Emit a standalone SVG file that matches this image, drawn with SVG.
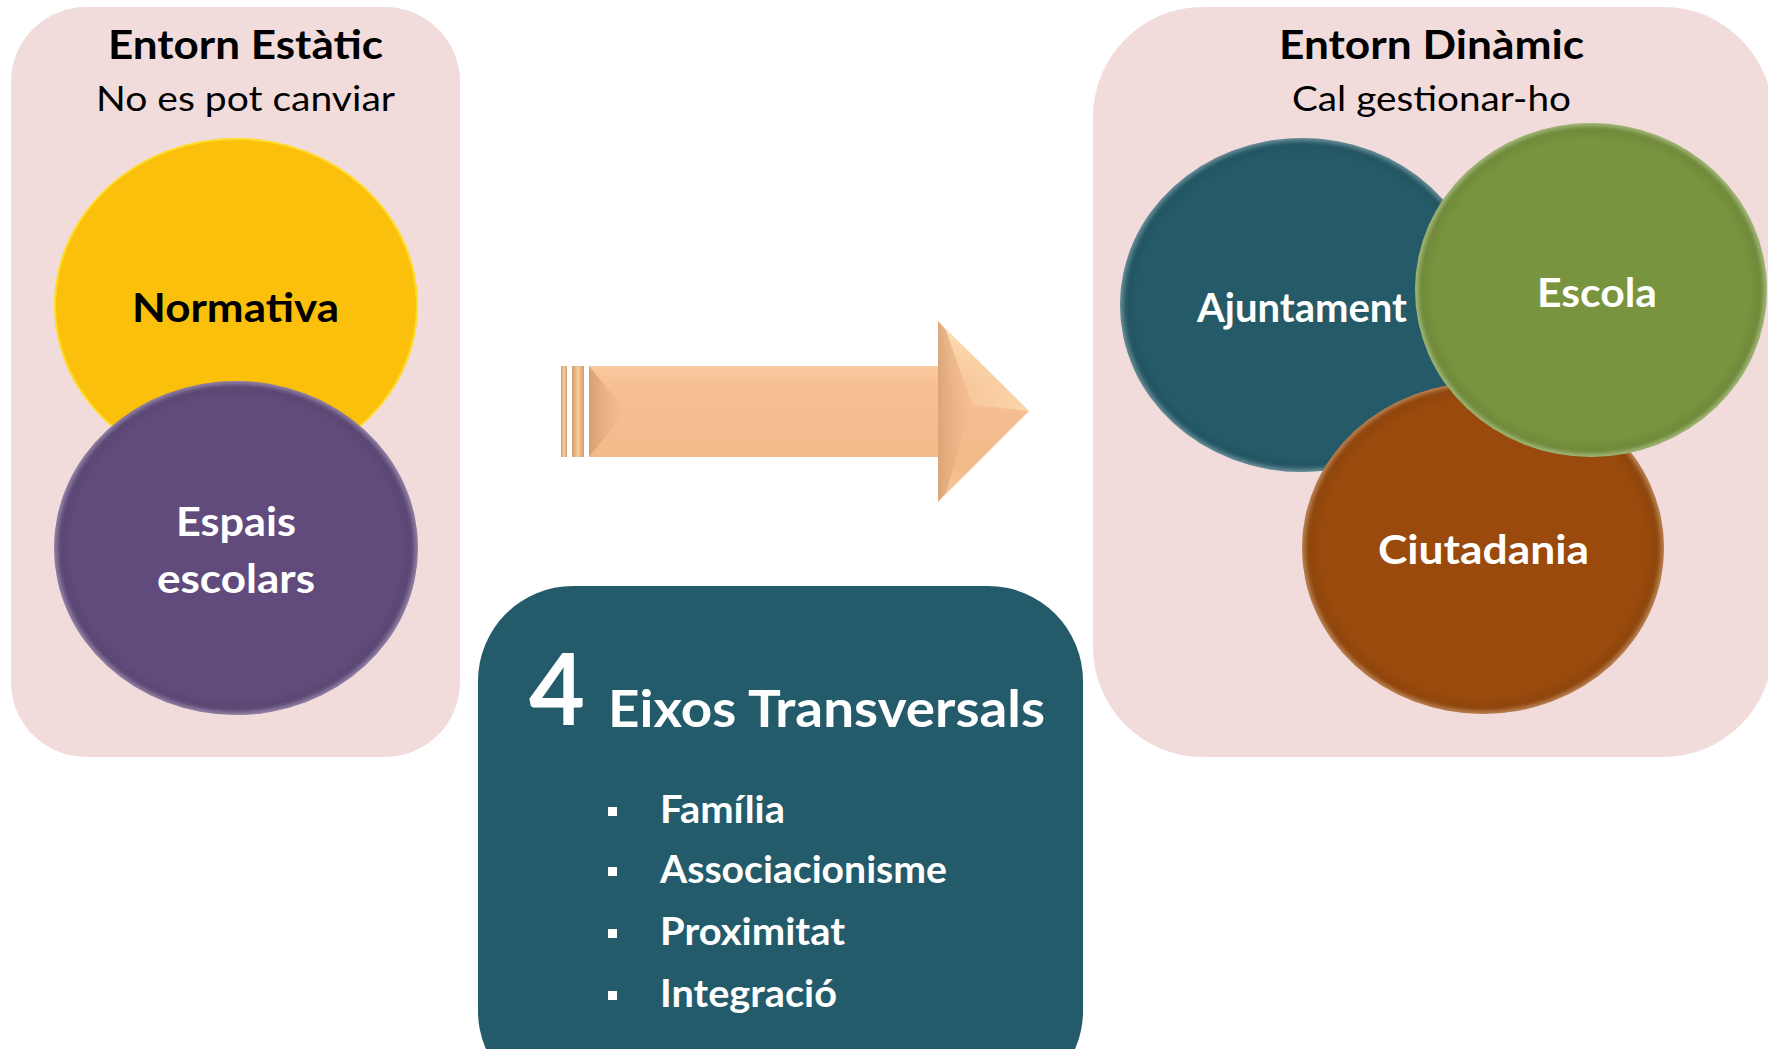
<svg xmlns="http://www.w3.org/2000/svg" width="1768" height="1049" viewBox="0 0 1768 1049">
<style>
.panel{fill:#F2DCDB}
.hd{font-family:Lato,"Open Sans",sans-serif;font-weight:700;font-size:40px;fill:#000}
.sub{font-family:Lato,"Open Sans",sans-serif;font-weight:400;font-size:35px;fill:#000}
.lbl{font-family:Lato,"Open Sans",sans-serif;font-weight:700;font-size:41px;fill:#fff}
.big{font-family:Lato,"Open Sans",sans-serif;font-weight:700;fill:#fff}
.item{font-family:Lato,"Open Sans",sans-serif;font-weight:700;font-size:38px;fill:#fff}
.rim{fill:url(#rim)}
</style>
<defs>
<radialGradient id="rim" cx="0.5" cy="0.5" r="0.5">
<stop offset="0" stop-color="#fff" stop-opacity="0"/>
<stop offset="0.9" stop-color="#000" stop-opacity="0"/>
<stop offset="0.955" stop-color="#000" stop-opacity="0.06"/>
<stop offset="0.985" stop-color="#fff" stop-opacity="0.18"/>
<stop offset="1" stop-color="#fff" stop-opacity="0.3"/>
</radialGradient>
<linearGradient id="arrowBody" x1="0" y1="0" x2="0" y2="1">
<stop offset="0" stop-color="#FEF0CC"/>
<stop offset="0.12" stop-color="#FBD7AA"/>
<stop offset="0.35" stop-color="#F6C094"/>
<stop offset="0.8" stop-color="#F3BA8A"/>
<stop offset="0.95" stop-color="#F6C798"/>
<stop offset="1" stop-color="#FDE6BE"/>
</linearGradient>
<linearGradient id="stripe" x1="0" y1="0" x2="1" y2="0">
<stop offset="0" stop-color="#D39B6C"/>
<stop offset="0.5" stop-color="#F8CC9E"/>
<stop offset="1" stop-color="#D39B6C"/>
</linearGradient>
<linearGradient id="bevelL" x1="0" y1="0" x2="1" y2="0">
<stop offset="0" stop-color="#D8A072"/>
<stop offset="1" stop-color="#F3BB8B" stop-opacity="0.2"/>
</linearGradient>
<linearGradient id="bevelH" x1="0" y1="0" x2="1" y2="0">
<stop offset="0" stop-color="#D9A174" stop-opacity="0.9"/>
<stop offset="1" stop-color="#F0B888" stop-opacity="0.2"/>
</linearGradient>
<linearGradient id="headHi" x1="0" y1="0" x2="1" y2="0">
<stop offset="0" stop-color="#FBD9AE" stop-opacity="0.1"/>
<stop offset="1" stop-color="#FCDDB4" stop-opacity="0.8"/>
</linearGradient>
</defs>

<g id="panel-static">
<rect class="panel" x="11" y="7" width="449" height="750" rx="75" ry="75"/>
<text class="hd" x="108" y="59" textLength="275" lengthAdjust="spacingAndGlyphs">Entorn Estàtic</text>
<text class="sub" x="96" y="111" textLength="299" lengthAdjust="spacingAndGlyphs">No es pot canviar</text>
</g>

<g id="panel-dynamic">
<rect class="panel" x="1093" y="7" width="680" height="750" rx="110" ry="110"/>
<text class="hd" x="1279" y="59" textLength="305" lengthAdjust="spacingAndGlyphs">Entorn Dinàmic</text>
<text class="sub" x="1292" y="111" textLength="279" lengthAdjust="spacingAndGlyphs">Cal gestionar-ho</text>
</g>

<g id="node-normativa">
<ellipse cx="236" cy="305" rx="182" ry="167" fill="#FAC00B"/>
<ellipse cx="236" cy="305" rx="181" ry="166" fill="none" stroke="#FFE93A" stroke-width="2" opacity="0.7"/>
<text class="lbl" x="132" y="322" style="fill:#000" textLength="207" lengthAdjust="spacingAndGlyphs">Normativa</text>
</g>

<g id="node-espais">
<ellipse cx="236" cy="548" rx="182" ry="167" fill="#614B7C"/>
<ellipse class="rim" cx="236" cy="548" rx="182" ry="167"/>
<text class="lbl" x="176" y="536" textLength="120" lengthAdjust="spacingAndGlyphs">Espais</text>
<text class="lbl" x="157" y="593" textLength="158" lengthAdjust="spacingAndGlyphs">escolars</text>
</g>

<g id="node-ajuntament">
<ellipse cx="1302" cy="305" rx="182" ry="167" fill="#255B69"/>
<ellipse class="rim" cx="1302" cy="305" rx="182" ry="167"/>
<text class="lbl" x="1197" y="322" textLength="210" lengthAdjust="spacingAndGlyphs">Ajuntament</text>
</g>

<g id="node-ciutadania">
<ellipse cx="1483" cy="548" rx="181" ry="166" fill="#994A0C"/>
<ellipse class="rim" cx="1483" cy="548" rx="181" ry="166"/>
<text class="lbl" x="1378" y="564" textLength="211" lengthAdjust="spacingAndGlyphs">Ciutadania</text>
</g>

<g id="node-escola">
<ellipse cx="1591" cy="290" rx="176" ry="167" fill="#78943E"/>
<ellipse class="rim" cx="1591" cy="290" rx="176" ry="167"/>
<text class="lbl" x="1537" y="307" textLength="120" lengthAdjust="spacingAndGlyphs">Escola</text>
</g>

<g id="connectors">
<rect x="561" y="366" width="6" height="91" fill="url(#stripe)"/>
<rect x="572" y="366" width="12" height="91" fill="url(#stripe)"/>
<path d="M589,366 H938 V321 L1029,411 L938,502 V457 H589 Z" fill="url(#arrowBody)"/>
<path d="M589,366 L626,411 L589,457 Z" fill="url(#bevelL)"/>
<path d="M938,321 L946,330 L972,405 L946,493 L938,502 Z" fill="url(#bevelH)"/>
<path d="M946,330 L1029,411 L972,405 Z" fill="url(#headHi)"/>
</g>

<g id="node-eixos">
<rect x="478" y="586" width="605" height="520" rx="95" ry="95" fill="#245B6A"/>
<text class="big" x="529" y="725" font-size="100" textLength="56" lengthAdjust="spacingAndGlyphs">4</text>
<text class="big" x="608" y="727" font-size="52" textLength="437" lengthAdjust="spacingAndGlyphs">Eixos Transversals</text>
<rect x="608" y="807" width="9" height="9" fill="#fff"/>
<rect x="608" y="867" width="9" height="9" fill="#fff"/>
<rect x="608" y="929" width="9" height="9" fill="#fff"/>
<rect x="608" y="991" width="9" height="9" fill="#fff"/>
<text class="item" x="660" y="823" textLength="125" lengthAdjust="spacingAndGlyphs">Família</text>
<text class="item" x="660" y="883" textLength="287" lengthAdjust="spacingAndGlyphs">Associacionisme</text>
<text class="item" x="660" y="945" textLength="185" lengthAdjust="spacingAndGlyphs">Proximitat</text>
<text class="item" x="660" y="1007" textLength="177" lengthAdjust="spacingAndGlyphs">Integració</text>
</g>
</svg>
